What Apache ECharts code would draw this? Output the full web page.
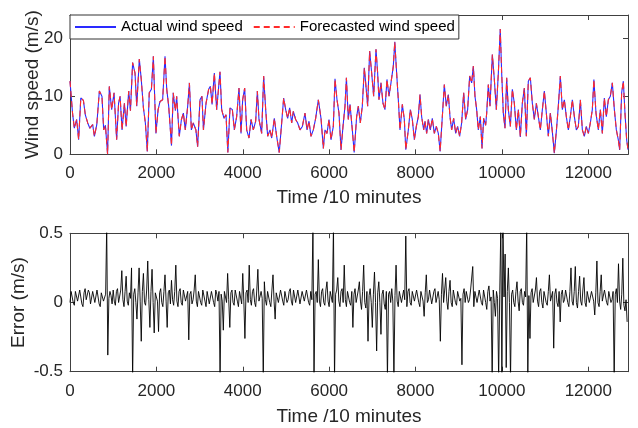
<!DOCTYPE html>
<html><head><meta charset="utf-8">
<script src="https://cdn.jsdelivr.net/npm/echarts@6/dist/echarts.min.js"></script>
<style>html,body{margin:0;padding:0;background:#fff}#c{width:638px;height:428px}</style>
</head><body><div id="c"></div><script>
const timeSteps = [0,60,100,155,200,250,310,355,410,460,525,565,620,680,740,780,820,870,910,965,
1020,1080,1125,1160,1205,1260,1300,1360,1400,1450,1505,1545,1605,1650,1700,1745,1790,1835,1885,1930,
1960,1990,2040,2085,2145,2200,2240,2285,2350,2390,2440,2470,2530,2580,2625,2670,2725,2765,2810,2855,
2915,2955,3010,3055,3090,3150,3210,3250,3290,3342,3396,3473,3512,3566,3612,3655,3705,3759,3805,3859,
3913,3960,3998,4044,4091,4145,4191,4245,4299,4338,4376,4438,4484,4531,4577,4631,4670,4731,4785,4845,
4901,4947,4994,5040,5086,5133,5171,5225,5272,5326,5380,5441,5488,5534,5580,5634,5688,5750,5812,5866,
5904,5950,5997,6043,6097,6136,6182,6228,6275,6321,6367,6400,6444,6483,6537,6580,6637,6676,6722,6768,
6815,6846,6892,6938,6985,7031,7085,7123,7154,7200,7247,7293,7339,7386,7432,7486,7520,7563,7602,7641,
7695,7741,7775,7834,7880,7926,7973,8019,8065,8104,8142,8189,8219,8258,8297,8343,8389,8436,8482,8528,
8570,8621,8667,8713,8760,8798,8837,8883,8930,8976,9022,9068,9115,9161,9207,9254,9300,9339,9377,9416,
9454,9501,9540,9578,9624,9648,9686,9725,9779,9825,9871,9918,9962,9995,10033,10072,10111,10149,10196,10242,
10288,10335,10381,10427,10473,10520,10566,10612,10659,10705,10751,10798,10844,10890,10937,10983,11029,11075,11122,11168,
11214,11261,11307,11353,11400,11446,11492,11539,11585,11631,11678,11724,11770,11817,11863,11909,11955,12002,12048,12094,
12130,12179,12233,12280,12326,12372,12418,12465,12511,12557,12604,12650,12696,12727,12773,12812,12850,12889,12920];
const actualSpeed = [12.6,7.0,4.5,6.0,2.5,9.7,9.3,6.8,5.4,4.5,5.1,3.1,5.1,10.9,10.0,4.2,5.0,0.0,11.7,7.7,
10.6,2.5,8.8,10.0,4.2,8.8,4.8,10.9,7.5,15.8,14.0,8.3,16.4,12.9,8.0,5.4,0.5,10.6,11.2,16.9,
10.0,3.6,7.7,9.1,9.4,16.9,11.2,8.3,1.5,10.6,7.5,10.0,3.1,6.0,7.1,4.2,8.3,12.3,4.2,5.4,
4.2,1.3,9.4,10.0,4.2,8.8,11.2,11.7,8.6,14.0,7.7,14.2,7.7,6.2,6.8,0.3,8.0,7.7,4.2,6.5,
11.4,3.6,9.4,11.4,4.2,2.8,6.0,4.2,5.7,10.9,6.0,3.6,13.5,7.7,3.1,4.2,2.8,6.2,3.1,0.3,
5.4,9.7,7.7,6.2,8.0,5.4,7.4,6.0,5.4,4.2,4.8,7.1,4.2,5.7,3.1,4.2,6.2,9.4,6.2,1.0,
4.2,3.6,6.0,2.5,4.8,13.0,9.4,7.1,0.75,4.8,8.3,13.2,6.0,8.6,4.2,0.3,6.5,8.3,5.4,8.3,
14.9,12.3,8.3,17.8,14.0,10.0,18.1,14.0,9.4,12.3,8.8,7.7,12.9,10.0,12.3,15.2,19.4,14.0,9.4,4.2,
8.6,6.0,0.8,4.2,7.7,6.0,2.5,4.8,6.5,10.3,6.5,4.2,5.7,3.6,6.0,4.2,6.2,3.6,4.8,3.6,
0.5,6.5,12.0,8.3,10.3,6.5,4.2,6.2,3.6,4.8,3.1,5.4,10.6,6.0,7.7,13.5,12.3,15.2,10.0,7.7,
4.2,6.5,1.0,6.2,5.0,7.1,12.0,8.3,17.2,12.9,7.7,14.0,21.6,14.0,7.1,4.5,13.2,7.7,4.8,11.2,
8.8,4.2,7.7,3.0,8.8,11.4,3.1,12.6,13.2,8.8,6.0,8.8,6.5,4.2,7.7,10.9,7.1,3.1,7.1,3.9,
0.2,4.0,8.3,13.5,7.7,9.4,6.5,4.2,6.5,9.4,6.5,4.2,4.8,9.4,4.2,3.1,4.8,3.6,5.4,7.7,
12.9,7.1,4.2,7.7,3.6,9.7,6.5,9.4,10.0,12.3,7.7,4.2,2.5,0.75,10.6,12.6,7.1,2.5,0.8];
// the forecast line lies on the actual line at this resolution
const forecastSpeed = actualSpeed.slice();

// error values, one every errStep time steps (0, 25, 50, ...)
const errStep = 25;
const errValues = [
0.00,0.08,0.07,0.00,-0.02,0.08,0.09,0.01,0.01,0.09,0.08,-0.01,-0.03,0.07,0.10,0.02,0.02,0.09,0.07,-0.01,
-0.02,0.08,0.09,0.00,0.00,0.09,0.10,-0.01,-0.03,0.07,0.08,0.01,0.02,0.06,0.55,-0.38,0.03,0.08,0.05,-0.01,
0.09,0.01,-0.02,0.08,0.10,0.00,0.00,0.09,0.23,0.02,-0.03,0.08,0.19,0.01,-0.02,0.07,0.03,0.25,-0.55,0.06,
0.10,0.00,-0.12,0.07,0.25,0.01,-0.28,0.08,0.21,0.00,-0.02,0.09,0.30,0.02,-0.18,0.08,0.24,0.00,-0.22,0.07,
0.08,0.01,-0.21,0.07,0.10,0.00,-0.03,0.08,0.20,0.01,-0.18,0.07,0.09,-0.01,0.16,0.02,-0.02,0.08,0.27,0.01,
-0.03,0.08,0.10,0.00,-0.02,0.09,0.09,0.01,0.00,0.08,-0.27,0.06,0.08,-0.01,0.02,0.09,0.20,0.01,-0.03,0.08,
0.08,0.00,-0.02,0.09,0.10,0.01,-0.03,0.08,0.09,-0.01,0.00,0.08,0.07,0.00,-0.03,0.09,0.06,0.01,0.08,-0.55,
0.06,0.01,-0.20,0.08,0.07,0.00,0.21,0.02,-0.18,0.07,0.09,0.00,-0.02,0.09,0.10,0.01,-0.03,0.08,0.08,-0.01,
0.21,0.01,-0.26,0.07,0.09,0.00,0.27,0.02,-0.02,0.08,0.10,0.00,-0.03,0.09,0.24,0.01,0.01,0.08,0.03,-0.55,
0.15,0.02,-0.02,0.08,0.09,0.00,-0.03,0.09,0.20,0.01,-0.12,0.07,0.08,0.00,0.00,0.09,0.10,0.01,-0.02,0.08,
0.09,0.00,0.02,0.08,0.10,0.01,-0.02,0.09,0.08,0.00,0.01,0.09,0.09,-0.01,-0.02,0.08,0.08,0.01,0.00,0.09,
0.10,0.00,-0.02,0.08,0.02,0.55,-0.55,0.06,0.08,0.00,0.31,0.01,-0.03,0.08,0.10,0.00,-0.02,0.09,0.15,0.01,
-0.03,0.08,0.08,0.00,0.55,-0.55,0.06,0.09,0.18,0.01,-0.03,0.08,0.10,0.00,0.27,0.02,-0.03,0.08,0.09,0.00,
-0.02,0.08,-0.18,0.06,0.10,0.00,0.00,0.09,0.15,0.01,-0.05,0.08,0.27,0.00,-0.04,0.08,-0.28,0.05,0.10,0.00,
-0.18,0.06,0.22,0.00,-0.35,0.07,0.15,0.00,-0.23,0.06,0.09,-0.01,-0.05,0.08,-0.55,0.06,0.08,0.00,0.10,0.01,
-0.55,0.05,0.27,0.01,-0.03,0.08,0.09,0.00,0.00,0.09,0.02,0.48,-0.03,0.08,0.10,0.00,-0.02,0.08,0.09,0.01,
0.00,0.09,0.10,0.00,-0.03,0.08,0.09,0.01,-0.10,0.07,0.20,0.00,0.02,0.09,0.08,-0.01,-0.02,0.08,0.10,0.00,
0.00,0.08,0.02,-0.28,0.06,0.21,0.00,0.09,0.18,0.01,-0.05,0.08,0.16,0.00,-0.03,0.09,0.10,0.00,-0.02,0.08,
0.09,0.01,0.03,-0.45,0.06,0.10,0.00,0.08,0.09,0.00,0.02,0.09,0.08,0.26,-0.03,0.08,0.08,0.00,0.00,0.09,
0.10,0.00,-0.02,0.09,0.09,0.00,-0.05,0.08,0.12,0.01,0.04,-0.55,0.09,0.00,-0.10,0.08,0.03,-0.55,0.06,0.55,
-0.55,0.55,0.04,0.35,-0.47,0.08,0.25,0.00,-0.55,0.06,0.09,0.00,-0.03,0.08,0.15,0.01,-0.06,0.08,0.10,0.00,
-0.02,0.08,0.04,0.55,-0.55,0.05,-0.26,0.07,0.10,0.00,0.00,0.09,0.18,0.01,-0.03,0.08,0.10,0.00,-0.04,0.08,
0.09,0.00,-0.02,0.08,0.20,0.01,0.00,0.08,-0.33,0.06,0.10,0.00,-0.03,0.08,-0.14,0.06,0.09,0.00,0.02,0.09,
0.10,0.00,-0.03,0.08,0.25,0.01,-0.02,0.08,0.26,0.00,-0.04,0.08,0.19,0.01,-0.02,0.09,0.18,0.00,-0.03,0.08,
0.09,0.00,0.00,0.08,0.08,0.01,-0.09,0.07,0.30,0.00,-0.03,0.08,0.20,0.01,0.00,0.09,0.09,0.00,-0.02,0.08,
0.09,0.00,0.02,0.08,-0.55,0.06,0.10,0.00,0.28,0.01,-0.05,0.06,0.32,-0.02,-0.06,0.02,-0.14];

const xTickStep = 2000;
const speedTickStep = 10;
const errTickStep = 0.5;

const FONT = '"Liberation Sans", Arial, sans-serif';
const AX = '#404040';
const TXT = '#262626';

const speedPairs = timeSteps.map((t,i)=>[t, actualSpeed[i]]);
const forecastPairs = timeSteps.map((t,i)=>[t, forecastSpeed[i]]);
const errPairs = errValues.map((v,i)=>[i*errStep, v]);

function xAx(grid, pos, labels, gap){
  return {type:'value', gridIndex:grid, position:pos, min:0, max:12920, interval:xTickStep,
    axisLine:{show:true, onZero:false, lineStyle:{color:AX, width:1}},
    axisTick:{show:true, inside:true, length:5, lineStyle:{color:AX}},
    axisLabel:{show:labels, margin:11, fontSize:17, fontFamily:FONT, color:TXT,
      formatter:v=> (v % xTickStep === 0 ? String(v) : '')},
    splitLine:{show:false},
    name: labels ? 'Time /10 minutes' : '', nameLocation:'middle', nameGap:gap || 34, nameMoveOverlap:false,
    nameTextStyle:{fontSize:19, fontFamily:FONT, color:TXT}};
}
function yAx(grid, pos, labels, min, max, step, name, gap){
  return {type:'value', gridIndex:grid, position:pos, min:min, max:max, interval:step,
    axisLine:{show:true, onZero:false, lineStyle:{color:AX, width:1}},
    axisTick:{show:true, inside:true, length:5, lineStyle:{color:AX}},
    axisLabel:{show:labels, margin:7, fontSize:17, fontFamily:FONT, color:TXT,
      formatter:v=>{ const r = Math.round(v/step)*step; return Math.abs(r - v) < 1e-9 ? String(+v.toFixed(2)) : ''; }},
    splitLine:{show:false},
    name: labels ? name : '', nameLocation:'middle', nameGap:gap, nameMoveOverlap:false,
    nameTextStyle:{fontSize:19, fontFamily:FONT, color:TXT}};
}

const chart = echarts.init(document.getElementById('c'), null, {renderer:'canvas'});
chart.setOption({
  animation:false,
  backgroundColor:'#fff',
  grid:[{left:70, top:15, right:10, height:139.3, outerBoundsMode:'none', containLabel:false},
        {left:70, top:233.3, right:10, height:138.4, outerBoundsMode:'none', containLabel:false}],
  legend:{left:70, top:15, padding:[4,4,4,4], itemGap:10, itemWidth:41, itemHeight:14,
    backgroundColor:'#fff', borderColor:'#333', borderWidth:1,
    itemStyle:{opacity:0},
    textStyle:{fontSize:15, fontFamily:FONT, color:'#000', lineHeight:16},
    data:['Actual wind speed','Forecasted wind speed']},
  xAxis:[xAx(0,'bottom',true,34), xAx(0,'top',false), xAx(1,'bottom',true,36), xAx(1,'top',false)],
  yAxis:[yAx(0,'left',true,0,24,speedTickStep,'Wind speed (m/s)',28),
         yAx(0,'right',false,0,24,speedTickStep,'',0),
         yAx(1,'left',true,-0.5,0.5,errTickStep,'Error (m/s)',42),
         yAx(1,'right',false,-0.5,0.5,errTickStep,'',0)],
  series:[
    {type:'line', name:'Actual wind speed', xAxisIndex:0, yAxisIndex:0, data:speedPairs,
      symbol:'none', lineStyle:{color:'#2a2aff', width:1.1}, itemStyle:{color:'#2a2aff'}, z:2},
    {type:'line', name:'Forecasted wind speed', xAxisIndex:0, yAxisIndex:0, data:forecastPairs,
      symbol:'none', lineStyle:{color:'#ff2a2a', width:1.1, type:[6,4]}, itemStyle:{color:'#ff2a2a'}, z:3},
    {type:'line', name:'Error', xAxisIndex:2, yAxisIndex:2, data:errPairs, clip:true,
      symbol:'none', lineStyle:{color:'#000', width:0.9}, itemStyle:{color:'#000'}, z:2}
  ]
});
</script></body></html>
